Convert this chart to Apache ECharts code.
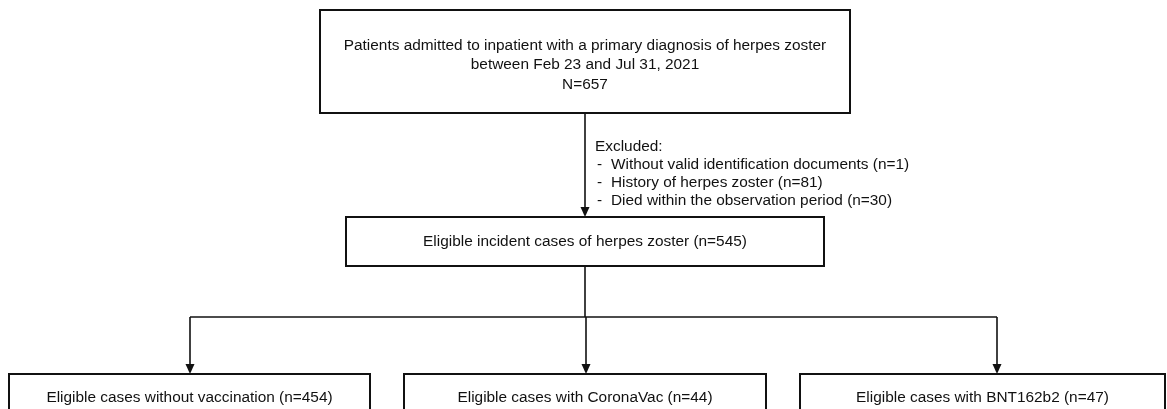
<!DOCTYPE html>
<html>
<head>
<meta charset="utf-8">
<script src="https://cdn.jsdelivr.net/npm/echarts@6/dist/echarts.min.js"></script>
<style>
html,body{margin:0;padding:0;background:#fff;}
#chart{width:1167px;height:409px;}
</style>
</head>
<body>
<div id="chart"></div>
<script>
// ---- data ----
const topBoxLines = ['Patients admitted to inpatient with a primary diagnosis of herpes zoster', 'between Feb 23 and Jul 31, 2021'];
const totalN = 657;
const excludedTitle = 'Excluded:';
const exclusionReasons = ['Without valid identification documents', 'History of herpes zoster', 'Died within the observation period'];
const exclusionCounts = [1, 81, 30];
const eligibleLabel = 'Eligible incident cases of herpes zoster';
const eligibleCount = 545;
const groupLabels = ['Eligible cases without vaccination', 'Eligible cases with CoronaVac', 'Eligible cases with BNT162b2'];
const groupCounts = [454, 44, 47];

// ---- layout (canvas units) ----
const W = 1167, H = 409;
const FONT = '15.4px "Liberation Sans", Arial, sans-serif';
const INK = '#111';
const boxes = [
  {x0: 320, y0: 10, x1: 850, y1: 113, lines: topBoxLines.concat(['N=' + totalN]), ys: [45.5, 64.5, 84.5]},
  {x0: 346, y0: 217, x1: 824, y1: 266, lines: [eligibleLabel + ' (n=' + eligibleCount + ')'], ys: [242]},
  {x0: 9, y0: 374, x1: 370, y1: 425, lines: [groupLabels[0] + ' (n=' + groupCounts[0] + ')'], ys: [398]},
  {x0: 404, y0: 374, x1: 766, y1: 425, lines: [groupLabels[1] + ' (n=' + groupCounts[1] + ')'], ys: [398]},
  {x0: 800, y0: 374, x1: 1165, y1: 425, lines: [groupLabels[2] + ' (n=' + groupCounts[2] + ')'], ys: [398]}
];
const connectors = [
  {pts: [[585, 113], [585, 217]], arrow: true},
  {pts: [[585, 266], [585, 317]], arrow: false},
  {pts: [[190, 317], [997, 317]], arrow: false},
  {pts: [[190, 317], [190, 374]], arrow: true},
  {pts: [[586, 317], [586, 374]], arrow: true},
  {pts: [[997, 317], [997, 374]], arrow: true}
];
const exclText = {x: 595, xText: 611, ys: [146.5, 164.5, 182.5, 200.5]};

const chart = echarts.init(document.getElementById('chart'), null, {renderer: 'canvas'});

function renderBox(params, api) {
  const b = boxes[params.dataIndex];
  const p0 = api.coord([b.x0, b.y0]);
  const p1 = api.coord([b.x1, b.y1]);
  const children = [{
    type: 'rect',
    shape: {x: p0[0], y: p0[1], width: p1[0] - p0[0], height: p1[1] - p0[1]},
    style: {fill: '#fff', stroke: INK, lineWidth: 2}
  }];
  const cx = (p0[0] + p1[0]) / 2;
  b.lines.forEach(function (t, i) {
    const py = api.coord([0, b.ys[i]])[1];
    children.push({type: 'text', style: {text: t, x: cx, y: py, fill: INK, font: FONT, align: 'center', verticalAlign: 'middle'}});
  });
  return {type: 'group', children: children};
}

function renderConnector(params, api) {
  const c = connectors[params.dataIndex];
  const pts = c.pts.map(function (p) { return api.coord(p); });
  const children = [];
  const end = pts[pts.length - 1];
  const linePts = pts.slice();
  if (c.arrow) {
    linePts[linePts.length - 1] = [end[0], end[1] - 6];
  }
  children.push({type: 'polyline', shape: {points: linePts}, style: {stroke: INK, lineWidth: 1.6, fill: null}});
  if (c.arrow) {
    children.push({type: 'polygon', shape: {points: [[end[0] - 4.5, end[1] - 10], [end[0] + 4.5, end[1] - 10], [end[0], end[1]]]}, style: {fill: INK}});
  }
  return {type: 'group', children: children};
}

function renderExcl(params, api) {
  const children = [];
  const px = api.coord([exclText.x, 0])[0];
  const ptx = api.coord([exclText.xText, 0])[0];
  children.push({type: 'text', style: {text: excludedTitle, x: px, y: api.coord([0, exclText.ys[0]])[1], fill: INK, font: FONT, align: 'left', verticalAlign: 'middle'}});
  exclusionReasons.forEach(function (r, i) {
    const py = api.coord([0, exclText.ys[i + 1]])[1];
    children.push({type: 'text', style: {text: '-', x: px + 2, y: py, fill: INK, font: FONT, align: 'left', verticalAlign: 'middle'}});
    children.push({type: 'text', style: {text: r + ' (n=' + exclusionCounts[i] + ')', x: ptx, y: py, fill: INK, font: FONT, align: 'left', verticalAlign: 'middle'}});
  });
  return {type: 'group', children: children};
}

chart.setOption({
  animation: false,
  backgroundColor: '#fff',
  grid: {left: 0, right: 0, top: 0, bottom: 0},
  xAxis: {type: 'value', min: 0, max: W, show: false},
  yAxis: {type: 'value', min: 0, max: H, inverse: true, show: false},
  series: [
    {type: 'custom', renderItem: renderConnector, data: connectors.map(function (c, i) { return i; }), silent: true},
    {type: 'custom', renderItem: renderBox, data: boxes.map(function (b, i) { return i; }), silent: true},
    {type: 'custom', renderItem: renderExcl, data: [0], silent: true}
  ]
});
</script>
</body>
</html>
